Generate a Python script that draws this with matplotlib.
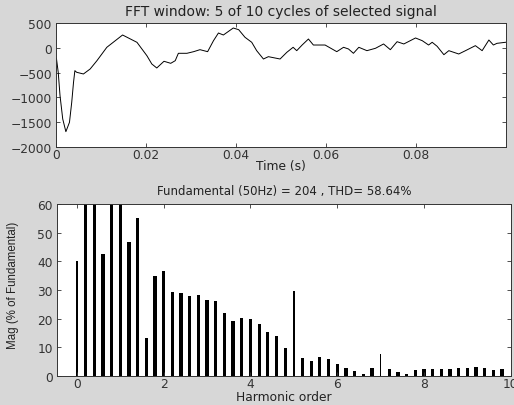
#!/usr/bin/env python3
"""FFT analysis view: selected signal window and harmonic spectrum."""

import numpy as np
import matplotlib

matplotlib.use("Agg")
import matplotlib.pyplot as plt

# signal trace (time in s, value)
sig_t = [0.0, 0.0001, 0.0005, 0.0009, 0.0015, 0.0022, 0.0030, 0.0035, 0.0039, 0.0042,
         0.0046, 0.0061, 0.0076, 0.0091, 0.0102, 0.0113, 0.0148, 0.0180, 0.0202, 0.0213,
         0.0224, 0.0240, 0.0255, 0.0265, 0.0272, 0.0291, 0.0306, 0.0320, 0.0337, 0.0350,
         0.0361, 0.0372, 0.0394, 0.0406, 0.0420, 0.0435, 0.0446, 0.0461, 0.0472, 0.0498,
         0.0513, 0.0527, 0.0535, 0.0547, 0.0561, 0.0572, 0.0598, 0.0624, 0.0639, 0.0650,
         0.0661, 0.0673, 0.0691, 0.0710, 0.0728, 0.0743, 0.0758, 0.0773, 0.0799, 0.0814,
         0.0828, 0.0836, 0.0847, 0.0862, 0.0873, 0.0895, 0.0910, 0.0932, 0.0947, 0.0962,
         0.0972, 0.0980, 0.0999]
sig_v = [-250, -212, -494, -965, -1435, -1691, -1502, -1099, -696, -461,
         -494, -528, -427, -260, -125, 10, 258, 110, -159, -327,
         -407, -272, -313, -260, -111, -111, -78, -38, -78, 143,
         298, 258, 399, 365, 212, 111, -58, -226, -179, -226,
         -91, 10, -58, 56, 177, 56, 56, -78, 10, -24,
         -111, 10, -58, -10, 77, -38, 123, 77, 198, 143,
         56, 111, 30, -139, -58, -125, -58, 43, -58, 157,
         56, 90, 111]

# harmonic spectrum, % of fundamental (bars above 60 are clipped in the view)
harm_order = np.round(np.arange(50) * 0.2, 1)
harm_mag = [40.0, 75.0, 85.0, 42.4, 90.0, 100.0, 46.7, 55.2, 13.3, 34.9,
            36.6, 29.3, 28.8, 27.9, 28.1, 26.4, 26.0, 21.9, 19.2, 20.4,
            20.0, 18.3, 15.3, 14.0, 9.9, 29.6, 6.2, 5.2, 6.6, 5.9,
            4.3, 2.9, 1.7, 0.6, 2.7, 7.6, 2.3, 1.4, 0.7, 2.1,
            2.3, 2.3, 2.3, 2.3, 2.7, 2.7, 3.0, 2.8, 2.2, 2.4]

fundamental = 204
thd = 58.64

plt.rcParams["font.family"] = ["DejaVu Sans"]
FS = 8.8
TXT = "#222222"

fig = plt.figure(figsize=(5.14, 4.06), dpi=100, facecolor="#d7d7d7")

def style(ax):
    ax.tick_params(direction="in", top=True, right=True, length=3, width=0.6,
                   labelsize=FS, labelcolor="#333333", color="#333333")
    ax.tick_params(axis="x", pad=1)
    ax.tick_params(axis="y", pad=3)
    for s in ax.spines.values():
        s.set_linewidth(0.7)
        s.set_color("#333333")

# top panel: time signal
ax1 = fig.add_axes([0.1089, 0.6355, 0.8755, 0.3054])
ax1.plot(sig_t, sig_v, color="black", linewidth=0.7)
ax1.set_xlim(0, 0.1)
ax1.set_ylim(-2000, 500)
ax1.set_xticks([0, 0.02, 0.04, 0.06, 0.08])
ax1.set_xticklabels(["0", "0.02", "0.04", "0.06", "0.08"])
ax1.set_yticks([500, 0, -500, -1000, -1500, -2000])
ax1.set_xlabel("Time (s)", fontsize=FS, labelpad=-2, color=TXT)
ax1.set_title("FFT window: 5 of 10 cycles of selected signal", fontsize=10,
              pad=6, color=TXT)
style(ax1)

# bottom panel: harmonic bars
thin = {0.0, 5.0, 7.0}
widths = [0.035 if h in thin else 0.075 for h in harm_order]
ax2 = fig.add_axes([0.1109, 0.0714, 0.8827, 0.4236])
ax2.bar(harm_order, harm_mag, width=widths, color="black", linewidth=0)
ax2.set_xlim(-0.46, 10)
ax2.set_ylim(0, 60)
ax2.set_xticks([0, 2, 4, 6, 8, 10])
ax2.set_yticks([0, 10, 20, 30, 40, 50, 60])
ax2.set_xlabel("Harmonic order", fontsize=FS, labelpad=0, color=TXT)
ax2.set_ylabel("Mag (% of Fundamental)", fontsize=8.3,
               family=["Liberation Sans", "DejaVu Sans"], color=TXT)
ax2.yaxis.set_label_coords(-0.084, 0.53)
ax2.set_title(f"Fundamental (50Hz) = {fundamental} , THD= {thd:.2f}%",
              fontsize=8.5, pad=7, color=TXT)
style(ax2)

fig.savefig("out.png", dpi=100, facecolor=fig.get_facecolor())
